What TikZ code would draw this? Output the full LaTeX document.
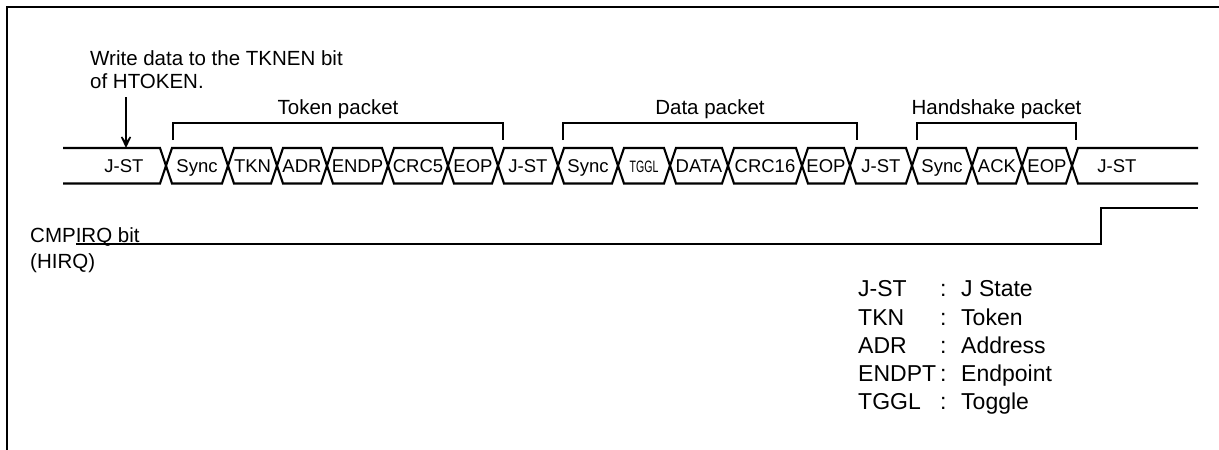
\documentclass[tikz,border=0pt]{standalone}
\usepackage{fontspec}
\setmainfont{Liberation Sans}
\usetikzlibrary{arrows.meta}

\newcommand\tgglfont{\fontsize{16.5}{18}\selectfont}

\begin{document}
\begin{tikzpicture}[
    x=1pt, y=-1pt, % one unit per pixel, y pointing down
    >=Stealth, % Set default arrow tip style
    sig/.style={line width=2.1pt}, % Signal and bus lines
    brk/.style={line width=1.6pt}, % Packet brackets
    frm/.style={line width=2.8pt}, % Outer frame
    buslbl/.style={inner sep=0pt, anchor=base, font=\fontsize{18.5}{20}\selectfont},
    note/.style={inner sep=0pt, anchor=base west, font=\fontsize{20.5}{24}\selectfont},
    pkt/.style={inner sep=0pt, anchor=base, font=\fontsize{20.5}{24}\selectfont},
    leg/.style={inner sep=0pt, anchor=base west, font=\fontsize{23}{28}\selectfont}
]
\useasboundingbox (0,0) rectangle (1219,450);

% Frame (cut by the page edge)
\draw[frm] (7,460) -- (7,7) -- (1230,7);

% Bus levels
\def\busT{148}    % top line
\def\busB{183.5}  % bottom line
\def\busM{165.75} % crossing point
\def\busL{172}    % baseline of the field texts
\def\dx{6}        % half width of a crossing

% Bus, open end at left
\draw[sig] (63,\busT) -- (166-\dx,\busT) -- (166,\busM);
\draw[sig] (63,\busB) -- (166-\dx,\busB) -- (166,\busM);
\node[buslbl] (jst1) at (124,\busL) {J-ST};

% Bus fields between two crossings
\foreach \a/\b/\txt/\nm in {166/228/Sync/sync1, 228/277/TKN/tkn, 277/327/ADR/adr,
    327/388/ENDP/endp, 388/448/CRC5/crc5, 448/498/EOP/eop1, 498/558/J-ST/jst2,
    558/618/Sync/sync2, 618/670/{\scalebox{0.64}[1]{\tgglfont TGGL}}/tggl,
    670/728/DATA/data, 728/802/CRC16/crc16, 802/850/EOP/eop2, 850/912/J-ST/jst3,
    912/972/Sync/sync3, 972/1022/ACK/ack, 1022/1072/EOP/eop3}{
  \draw[sig] (\a,\busM) -- (\a+\dx,\busT) -- (\b-\dx,\busT) -- (\b,\busM);
  \draw[sig] (\a,\busM) -- (\a+\dx,\busB) -- (\b-\dx,\busB) -- (\b,\busM);
  \node[buslbl] (\nm) at ({(\a+\b)/2},\busL) {\txt};
}

% Bus, open end at right
\draw[sig] (1072,\busM) -- (1072+\dx,\busT) -- (1198,\busT);
\draw[sig] (1072,\busM) -- (1072+\dx,\busB) -- (1198,\busB);
\node[buslbl] (jst4) at (1117,\busL) {J-ST};

% Packet brackets
\foreach \l/\r/\txt/\nm in {173/503/Token packet/tokpkt,
    563/857/Data packet/datpkt, 917/1076/Handshake packet/hspkt}{
  \draw[brk] (\l,140) -- (\l,123) -- (\r,123) -- (\r,140);
  \node[pkt] (\nm) at ({(\l+\r)/2},114) {\txt};
}

% Write note and its arrow
\node[note] (wr1) at (90,65) {Write data to the TKNEN bit};
\node[note] (wr2) at (90,88.3) {of HTOKEN.};
\coordinate (wrtop) at (126,97);
\coordinate (wrtip) at (126,\busT);
\draw[sig, -{Stealth[open, length=19pt, width=18pt, inset=13pt, line width=1.6pt]}] (wrtop) -- (wrtip);

% CMPIRQ bit
\node[note] (cmp) at (30,242) {CMPIRQ bit};
\node[note] (hirq) at (30,268.5) {(HIRQ)};
\coordinate (irqlo) at (76,244);
\coordinate (irqstep) at (1101,244);
\coordinate (irqhi) at (1101,208);
\coordinate (irqend) at (1198,208);
\draw[sig] (irqlo) -- (irqstep) -- (irqhi) -- (irqend);

% Legend
\foreach \ab/\mean/\y [count=\i] in {J-ST/J State/296.5, TKN/Token/325,
    ADR/Address/353, ENDPT/Endpoint/381, TGGL/Toggle/409}{
  \node[leg] (abbr\i) at (858,\y) {\ab};
  \node[leg] (col\i) at (940,\y) {:};
  \node[leg] (mean\i) at (961,\y) {\mean};
}

\end{tikzpicture}
\end{document}
